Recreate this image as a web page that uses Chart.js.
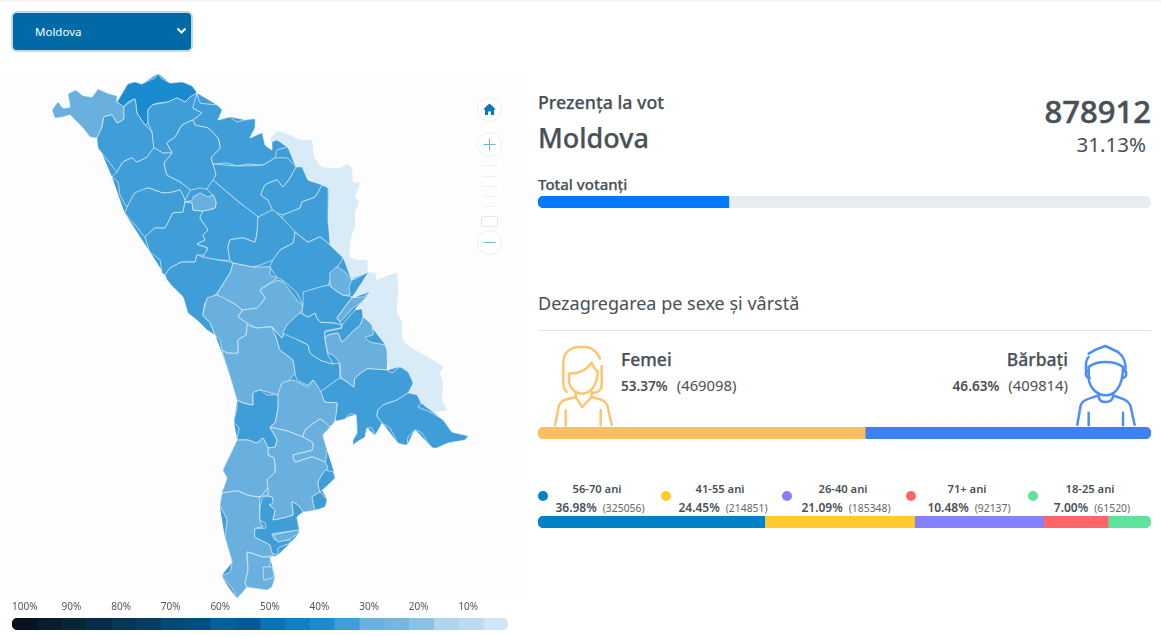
<!DOCTYPE html>
<html lang="ro">
<head>
<meta charset="utf-8">
<title>Prezenţa la vot</title>
<script src="https://cdn.jsdelivr.net/npm/chart.js@4"></script>
<style>
  html, body { margin: 0; padding: 0; background: #fff; }
  body { width: 1161px; height: 636px; position: relative; overflow: hidden; font-family: "Noto Sans", sans-serif; color: #495057; }
  .abs { position: absolute; white-space: nowrap; }
  .box { position: absolute; }
  .med { font-weight: 500; -webkit-text-stroke: 0.25px #495057; }
  #topStrip { left: 0; top: 0; width: 1161px; height: 2px; background: #f4f4f4; }
  #select { left: 11px; top: 11px; width: 178px; height: 37px; background: #0069a6; border: 2px solid #b5dbf6; border-radius: 6px; color: #fff; font-size: 11.5px; line-height: 37px; }
  #select span { position: absolute; left: 22px; top: 0; }
  #select svg { position: absolute; left: 163px; top: 14px; }
  #mapPanel { left: 0; top: 75px; width: 522px; height: 525px; background: #fdfdfd; }
  .ctl { position: absolute; left: 477px; width: 23px; height: 23px; border: 1px solid #e9eef2; border-radius: 50%; background: #fff; }
  .tick { position: absolute; left: 483px; width: 14px; height: 1px; background: #f0f0f0; }
  #hr { left: 538px; top: 330px; width: 613px; height: 1px; background: #e3e3e3; }
  .dot { position: absolute; width: 10px; height: 10px; border-radius: 50%; top: 491px; }
  .ageCol { position: absolute; width: 130px; text-align: center; white-space: nowrap; }
  .ageName { top: 481px; font-size: 11.2px; font-weight: 600; }
  .ageVal { top: 499px; font-size: 12px; font-weight: 600; }
  .ageVal span { font-size: 10.4px; font-weight: 400; color: #666; margin-left: 6px; }
  .genderVal { font-size: 13.6px; font-weight: 600; }
  .genderVal span { font-size: 14.8px; font-weight: 400; margin-left: 9px; }
</style>
</head>
<body>
<div class="box" id="topStrip"></div>
<div class="box" id="select"><span>Moldova</span>
  <svg width="11" height="8" viewBox="0 0 11 8"><path d="M1.5 1.5 L5.5 5.5 L9.5 1.5" fill="none" stroke="#fff" stroke-width="2"/></svg>
</div>

<div class="box" id="mapPanel"></div>
<div class="box" style="left:0;top:70px;width:522px;height:530px"><canvas id="mapChart"></canvas></div>

<div class="ctl" style="top:97px">
  <svg width="23" height="23" viewBox="0 0 23 23"><path d="M11.5 5.5 L18 11.5 L16 11.5 L16 17 L13 17 L13 13.5 L10 13.5 L10 17 L7 17 L7 11.5 L5 11.5 Z" fill="#0a78bf"/></svg>
</div>
<div class="ctl" style="top:132px">
  <svg width="23" height="23" viewBox="0 0 23 23"><path d="M11.5 5.5 V17.5 M5.5 11.5 H17.5" stroke="#6fb1d8" stroke-width="1"/></svg>
</div>
<div class="tick" style="top:165px"></div><div class="tick" style="top:176px"></div>
<div class="tick" style="top:186px"></div><div class="tick" style="top:196px"></div><div class="tick" style="top:206px"></div>
<div class="box" style="left:481px;top:216px;width:15px;height:9px;border:1px solid #e6e6e6;border-radius:2px;background:#fff"></div>
<div class="ctl" style="top:230px">
  <svg width="23" height="23" viewBox="0 0 23 23"><path d="M5.5 11.5 H17.5" stroke="#6fb1d8" stroke-width="1"/></svg>
</div>

<div class="box" style="left:12px;top:597px;width:496px;height:33px"><canvas id="scaleChart"></canvas></div>

<div class="abs med" style="left:538px;top:90px;font-size:17.8px">Prezenţa la vot</div>
<div class="abs med" style="left:538px;top:119px;font-size:27px">Moldova</div>
<div class="abs med" id="totalVotes" style="right:10px;top:90px;font-size:31px;-webkit-text-stroke-width:0.5px"></div>
<div class="abs" id="totalPct" style="right:15px;top:130px;font-size:20.5px"></div>
<div class="abs med" style="left:538px;top:174px;font-size:15px">Total votanţi</div>
<div class="box" style="left:538px;top:196px;width:613px;height:12px"><canvas id="turnoutChart"></canvas></div>

<div class="abs" style="left:538px;top:291px;font-size:18px">Dezagregarea pe sexe şi vârstă</div>
<div class="box" id="hr"></div>

<svg class="box" style="left:545px;top:342px" width="80" height="90" viewBox="0 0 240 270" fill="none" stroke="#fdc56d" stroke-width="7.5" stroke-linecap="round" stroke-linejoin="round">
  <path d="M65 150 C55 140 55 130 55 115 L55 60 C55 35 75 15 100 15 L125 15 C145 18 160 35 165 50"/>
  <path d="M170 72 L170 130 C170 145 155 155 140 152"/>
  <path d="M72 95 C100 95 125 85 140 62 C145 75 152 84 158 88 C158 130 135 155 112 155 C95 155 72 140 72 115 Z"/>
  <path d="M92 150 V165 L112 195 L140 165 V150"/>
  <path d="M92 165 C60 172 50 175 42 190 L30 250 M140 165 C170 172 180 175 187 190 L200 248"/>
  <path d="M62 205 V250 M167 205 V250"/>
</svg>
<svg class="box" style="left:1068px;top:342px" width="80" height="90" viewBox="0 0 240 270" fill="none" stroke="#4d8ff7" stroke-width="7.5" stroke-linecap="round" stroke-linejoin="round">
  <path d="M62 35 L85 22 L112 12 L150 30 C170 45 175 65 172 90"/>
  <path d="M55 95 C52 70 55 50 62 45"/>
  <path d="M62 75 C85 55 140 55 165 75"/>
  <path d="M62 75 V110 C65 140 90 160 112 160 C140 160 165 135 165 75"/>
  <path d="M62 85 C50 85 50 105 65 108 M165 85 C178 85 178 105 165 108"/>
  <path d="M92 155 V165 C95 185 130 185 135 165 V155"/>
  <path d="M92 160 C60 172 45 172 38 190 L28 248 M135 160 C170 172 180 175 187 190 L200 248"/>
  <path d="M62 212 V250 M165 212 V250"/>
</svg>

<div class="abs med" style="left:621px;top:347px;font-size:17.5px">Femei</div>
<div class="abs genderVal" id="femaleText" style="left:621px;top:375px"></div>
<div class="abs med" style="right:93px;top:347px;font-size:17.5px">Bărbaţi</div>
<div class="abs genderVal" id="maleText" style="right:93px;top:375px"></div>
<div class="box" style="left:538px;top:427px;width:613px;height:12px"><canvas id="genderChart"></canvas></div>

<div id="ageLegend"></div>
<div class="box" style="left:538px;top:516px;width:613px;height:12px"><canvas id="ageChart"></canvas></div>

<script>
// Date
const totalVotes = 878912;
const turnoutPct = [31.13, 68.87];
const turnoutColors = ['#007bff', '#e9ecef'];

const genderPct = [53.37, 46.63];
const genderCounts = [469098, 409814];
const genderColors = ['#fdbe5f', '#3b82f6'];

const ageLabels = ['56-70 ani', '41-55 ani', '26-40 ani', '71+ ani', '18-25 ani'];
const agePct = [36.98, 24.45, 21.09, 10.48, 7.00];
const ageCounts = [325056, 214851, 185348, 92137, 61520];
const ageColors = ['#0081c9', '#ffca2c', '#8580fb', '#ff6568', '#5fe29c'];

const scaleLabels = ['100%', '90%', '80%', '70%', '60%', '50%', '40%', '30%', '20%', '10%', ''];
const scaleColors = ['#07141f', '#0a1c2b', '#0a2535', '#072d4a', '#083655', '#053d63', '#024a75', '#004f80',
  '#05609a', '#045a94', '#0a73b8', '#0f80c5', '#1a8bce', '#3f9ed8', '#69b0de', '#74b6e1', '#8bc1e5', '#b2d5ee', '#bedcf1', '#cfe5f5'];
const mapPale = '#d9ebf7';

// Contururi raioane (x, y pe axele hărții)
const stinga = [[273,135],[278,131],[290,135],[300,140],[312,140],[314,157],[322,167],[340,168],[347,164],[352,168],[353,182],[360,183],[355,197],[359,202],[355,212],[355,225],[350,242],[350,257],[358,260],[367,260],[368,272],[375,273],[377,280],[388,275],[397,273],[398,290],[397,312],[402,322],[402,337],[405,343],[415,350],[430,358],[443,367],[440,373],[443,383],[442,400],[447,410],[433,412],[421,403],[417,395],[408,393],[395,380],[380,345],[360,320],[358,300],[345,280],[335,255],[322,225],[322,190],[298,170],[282,150],[270,140]];
const tara = [[117,102],[128,84],[135,82],[142,84],[158,74],[170,83],[182,82],[192,86],[197,93],[217,105],[222,110],[218,120],[230,117],[245,120],[255,119],[250,138],[262,133],[265,145],[272,150],[287,147],[296,167],[302,167],[308,180],[328,188],[328,220],[330,245],[343,258],[352,280],[368,272],[352,298],[370,292],[355,310],[363,317],[385,345],[387,370],[400,367],[408,372],[413,383],[408,393],[417,395],[421,403],[443,420],[452,432],[468,436],[448,443],[433,448],[415,430],[407,445],[398,443],[382,423],[375,435],[367,428],[353,445],[357,433],[356,415],[335,421],[330,427],[323,435],[327,450],[335,478],[318,482],[327,500],[315,510],[303,512],[297,517],[299,533],[278,555],[270,557],[275,577],[267,590],[247,587],[237,598],[222,576],[232,562],[225,537],[220,505],[227,478],[223,470],[237,440],[234,422],[237,400],[227,367],[215,335],[197,320],[183,297],[165,275],[150,252],[125,213],[112,177],[97,138],[124,107]];
const briceni = [[117,102],[123,92],[128,84],[135,82],[142,84],[148,81],[155,78],[158,74],[161,78],[170,83],[182,82],[192,86],[197,93],[190,97],[185,102],[177,98],[168,102],[158,103],[152,105],[148,110],[148,123],[145,125],[137,113],[135,99],[128,102],[123,107]];
const lipcani = [[52,110],[58,102],[63,108],[70,107],[68,94],[76,90],[82,95],[92,97],[98,89],[107,93],[117,96],[117,102],[124,107],[124,119],[117,123],[112,115],[104,117],[102,127],[97,138],[90,137],[83,128],[75,120],[70,115],[63,117],[55,118]];
const edinet = [[102,127],[104,117],[112,115],[117,123],[124,119],[124,107],[135,99],[137,113],[145,125],[152,132],[154,148],[147,157],[137,162],[132,158],[123,162],[117,172],[110,163],[105,157],[98,148],[97,138]];
const ocnita = [[148,110],[152,105],[168,102],[177,98],[185,102],[190,97],[197,93],[198,102],[193,108],[202,113],[193,120],[182,125],[175,137],[167,143],[172,153],[163,153],[154,148],[152,132],[148,123]];
const donduseni = [[197,93],[200,103],[217,105],[222,110],[218,120],[230,117],[237,122],[245,120],[255,119],[255,128],[250,138],[262,133],[265,145],[272,150],[272,142],[277,140],[287,147],[277,150],[275,158],[263,165],[248,164],[237,166],[227,163],[213,164],[211,158],[220,148],[218,138],[208,128],[195,125],[193,120],[202,113],[193,108]];
const drochia = [[182,125],[193,120],[195,125],[208,128],[218,138],[220,148],[211,158],[213,164],[216,175],[208,189],[200,188],[190,190],[180,182],[167,175],[164,163],[172,153],[167,143],[175,137]];
const riscani = [[117,172],[123,162],[132,158],[137,162],[147,157],[154,148],[163,153],[172,153],[164,163],[167,175],[180,182],[190,190],[185,200],[180,190],[173,192],[163,193],[148,188],[138,193],[135,193],[127,207],[120,195],[118,182],[112,177]];
const glodeni = [[127,207],[135,193],[148,188],[163,193],[173,192],[180,190],[185,200],[183,212],[173,213],[165,228],[155,228],[145,237],[137,227],[128,217],[125,213]];
const balti = [[193,197],[200,193],[208,197],[213,195],[216,202],[215,208],[203,211],[193,210],[192,203],[185,202],[193,200]];
const falesti = [[145,237],[155,228],[165,228],[173,213],[183,212],[185,202],[192,203],[193,210],[203,211],[200,218],[208,230],[203,235],[205,240],[197,244],[207,248],[205,255],[197,255],[195,262],[182,262],[170,268],[165,275],[162,273],[160,260],[150,252]];
const floresti = [[213,164],[237,166],[263,165],[275,158],[287,158],[296,167],[290,178],[283,187],[277,180],[265,185],[261,195],[268,200],[273,211],[258,217],[240,203],[213,180],[216,175]];
const soroca = [[296,167],[302,167],[308,180],[322,185],[315,197],[302,202],[300,208],[283,215],[273,211],[268,200],[261,195],[265,185],[277,180],[283,187],[290,178]];
const soldanesti = [[322,185],[328,188],[328,220],[330,245],[320,237],[308,242],[295,232],[282,219],[283,215],[300,208],[302,202],[315,197]];
const singerei = [[213,180],[240,203],[258,217],[257,232],[255,242],[243,238],[230,240],[228,248],[230,260],[218,260],[203,257],[208,248],[197,244],[205,240],[203,235],[208,230],[200,218],[203,211],[215,208],[216,202],[213,195],[207,189]];
const telenesti = [[258,217],[273,210],[283,219],[295,232],[293,243],[280,250],[273,260],[253,267],[233,263],[230,260],[228,248],[230,240],[243,238],[255,242],[257,232]];
const orhei = [[295,232],[308,242],[320,237],[330,245],[335,250],[343,258],[333,273],[328,285],[308,292],[303,305],[297,293],[285,282],[277,277],[270,267],[273,260],[280,250],[293,243]];
const ungheni = [[165,275],[170,268],[182,262],[195,262],[197,255],[203,257],[218,260],[233,263],[230,273],[217,293],[205,303],[203,315],[210,323],[215,335],[207,330],[197,320],[188,313],[183,297],[173,287],[167,280]];
const calarasi = [[233,263],[253,267],[270,267],[270,275],[277,278],[260,290],[265,298],[257,308],[243,310],[233,303],[217,295],[230,273]];
const straseni = [[277,280],[283,282],[297,300],[303,307],[298,318],[287,325],[282,338],[272,327],[257,328],[247,323],[238,317],[243,310],[257,308],[265,298],[260,290]];
const nisporeni = [[207,298],[217,295],[233,303],[242,310],[238,317],[247,323],[246,335],[238,340],[238,353],[227,353],[222,350],[220,340],[215,335],[210,323],[203,315]];
const hincesti = [[247,325],[257,328],[272,327],[277,340],[280,350],[293,360],[295,373],[287,382],[283,383],[280,395],[260,390],[253,393],[253,405],[243,403],[237,400],[232,383],[227,367],[222,350],[227,353],[238,353],[238,340],[246,335]];
const chisinau = [[287,325],[300,313],[308,317],[315,313],[317,318],[320,322],[335,323],[342,325],[340,328],[325,331],[325,340],[328,355],[333,364],[320,360],[310,353],[308,345],[298,340],[283,333]];
const ialoveni = [[272,327],[282,338],[287,327],[298,340],[308,345],[310,353],[320,360],[333,364],[339,363],[340,380],[338,385],[320,392],[313,380],[308,385],[297,380],[295,373],[293,360],[280,350],[277,340]];
const criuleni = [[303,292],[328,285],[335,290],[343,295],[352,297],[337,318],[342,325],[335,323],[320,322],[317,318],[315,313],[308,317],[302,313],[303,305]];
const dubasari = [[330,285],[330,273],[337,267],[345,272],[352,280],[368,272],[353,278],[349,287],[350,295],[343,295],[335,290]];
const cosnita = [[337,318],[352,298],[363,297],[370,292],[362,302],[353,308],[340,322]];
const bulboaca = [[325,332],[342,328],[342,325],[355,310],[362,309],[363,317],[360,325],[352,332],[342,342],[338,333],[328,335],[325,337]];
const aneniiNoi = [[325,338],[328,335],[338,333],[342,342],[352,332],[360,325],[363,317],[372,325],[373,335],[365,337],[370,342],[385,345],[387,350],[387,370],[367,369],[355,378],[354,387],[347,382],[341,378],[340,363],[333,355],[328,353]];
const causeni = [[320,392],[340,378],[347,382],[354,387],[355,378],[367,369],[387,370],[392,373],[400,367],[408,372],[413,383],[408,393],[397,400],[383,405],[378,410],[377,416],[382,423],[375,435],[372,428],[367,428],[365,437],[357,442],[353,445],[353,440],[357,433],[356,415],[350,414],[345,419],[335,421],[337,403],[325,402]];
const stefanVoda = [[378,410],[383,405],[397,400],[408,393],[417,395],[421,403],[418,407],[430,412],[443,420],[452,432],[468,436],[465,440],[448,443],[437,448],[433,448],[428,443],[422,433],[415,430],[408,437],[407,445],[398,443],[390,428],[382,423],[377,416]];
const leova = [[237,400],[243,403],[253,405],[253,393],[260,390],[267,395],[278,395],[278,408],[275,423],[270,427],[277,440],[275,447],[268,448],[263,438],[257,443],[248,440],[237,440],[239,428],[234,422],[237,408]];
const cimislia = [[278,395],[282,383],[293,380],[308,387],[313,380],[320,390],[325,402],[337,403],[335,421],[330,427],[320,419],[305,430],[303,437],[287,431],[270,427],[275,423],[278,408]];
const basarabeasca = [[305,430],[320,419],[330,427],[323,435],[327,450],[325,462],[312,457],[295,462],[293,455],[312,450],[313,443],[303,437]];
const comrat = [[270,427],[287,431],[303,437],[313,443],[312,450],[293,455],[295,462],[312,457],[325,462],[328,468],[318,482],[320,492],[312,497],[315,510],[303,512],[298,505],[292,502],[293,515],[273,520],[275,510],[269,505],[273,498],[268,495],[267,480],[275,472],[274,458],[268,455],[268,448],[275,447],[277,440]];
const cantemir = [[237,440],[248,440],[257,443],[263,438],[268,448],[268,455],[274,458],[275,472],[267,480],[268,488],[260,497],[247,495],[238,491],[222,493],[227,478],[223,470],[230,455]];
const ceadirLunga = [[325,470],[333,472],[335,478],[328,485],[320,492],[318,482]];
const taracliaNord = [[312,497],[320,492],[327,500],[325,507],[315,510]];
const cahul = [[222,493],[238,491],[247,495],[260,497],[268,488],[268,495],[260,497],[260,522],[263,527],[255,528],[255,537],[270,545],[273,555],[263,557],[247,552],[248,570],[245,583],[247,587],[237,598],[232,588],[222,576],[230,572],[232,562],[225,537],[227,520],[220,505]];
const taraclia = [[260,507],[263,497],[272,497],[273,503],[269,505],[275,510],[273,520],[293,515],[292,502],[298,505],[303,512],[297,517],[299,530],[285,532],[272,534],[275,540],[290,540],[290,543],[278,548],[278,555],[272,553],[270,545],[255,537],[255,529],[266,528],[265,523],[260,520]];
const vulcanesti = [[273,535],[297,530],[299,533],[290,539],[278,542]];
const giurgiulesti = [[247,552],[263,557],[270,557],[270,567],[275,577],[272,587],[267,590],[247,587],[245,583],[248,570]];
const cislita = [[263,567],[272,567],[274,577],[264,580]];

// Ordinea de desenare și treapta de culoare din scala de jos
const mapRegions = [stinga, tara, briceni, lipcani, edinet, ocnita, donduseni, drochia, riscani, glodeni, falesti, floresti, soroca, soldanesti, singerei, balti, telenesti, orhei, ungheni, calarasi, straseni, nisporeni, hincesti, ialoveni, chisinau, criuleni, dubasari, cosnita, aneniiNoi, bulboaca, causeni, stefanVoda, leova, cimislia, basarabeasca, comrat, cantemir, ceadirLunga, taracliaNord, cahul, taraclia, vulcanesti, giurgiulesti, cislita];
const mapShades = [19, 13, 12, 14, 13, 13, 13, 13, 13, 13, 13, 13, 13, 13, 13, 14, 13, 13, 13, 14, 14, 14, 14, 13, 13, 13, 14, 14, 14, 13, 13, 13, 13, 14, 14, 14, 14, 13, 13, 14, 13, 14, 14, 14];

// Coloanele legendei de vârstă
const ageDotX = [538, 661, 782, 906, 1028];
const ageNameX = [597, 720, 843, 967, 1090];
const ageValX = [600, 723, 846, 969, 1092];

// Texte
document.getElementById('totalVotes').textContent = totalVotes;
document.getElementById('totalPct').textContent = turnoutPct[0].toFixed(2) + '%';
document.getElementById('femaleText').innerHTML = genderPct[0].toFixed(2) + '%<span>(' + genderCounts[0] + ')</span>';
document.getElementById('maleText').innerHTML = genderPct[1].toFixed(2) + '%<span>(' + genderCounts[1] + ')</span>';

document.getElementById('ageLegend').innerHTML = ageLabels.map(function(label, i) {
    return '<div class="dot" style="left:' + ageDotX[i] + 'px;background:' + ageColors[i] + '"></div>' +
        '<div class="ageCol ageName" style="left:' + (ageNameX[i] - 65) + 'px">' + label + '</div>' +
        '<div class="ageCol ageVal" style="left:' + (ageValX[i] - 65) + 'px">' + agePct[i].toFixed(2) + '%<span>(' + ageCounts[i] + ')</span></div>';
}).join('');

Chart.defaults.animation = false;
Chart.defaults.responsive = true;
Chart.defaults.maintainAspectRatio = false;
Chart.defaults.font.family = '"Noto Sans", sans-serif';
Chart.defaults.plugins.legend.display = false;
Chart.defaults.plugins.tooltip.enabled = false;

// Harta: fiecare raion e o linie închisă umplută
new Chart(document.getElementById('mapChart'), {
    type: 'scatter',
    data: {
        datasets: mapRegions.map(function(points, i) {
            const closed = points.concat([points[0]]);
            return {
                data: closed.map(function(p) { return { x: p[0], y: p[1] }; }),
                showLine: true,
                fill: 'shape',
                tension: 0.1,
                pointRadius: 0,
                borderWidth: i < 2 ? 0 : 0.8,
                borderColor: 'rgba(255,255,255,0.75)',
                backgroundColor: i === 0 ? mapPale : scaleColors[mapShades[i]],
                order: mapRegions.length - i
            };
        })
    },
    options: {
        layout: { padding: 0 },
        scales: {
            x: { type: 'linear', display: false, min: 0, max: 522 },
            y: { type: 'linear', display: false, min: 70, max: 600, reverse: true }
        }
    }
});

// Bară orizontală stivuită, cu capete rotunjite
function stackedBar(canvasId, values, colors, radius, xScale) {
    const last = values.length - 1;
    return new Chart(document.getElementById(canvasId), {
        type: 'bar',
        data: {
            labels: [''],
            datasets: values.map(function(v, i) {
                return {
                    data: [v],
                    backgroundColor: colors[i],
                    borderSkipped: false,
                    barPercentage: 1,
                    categoryPercentage: 1,
                    borderRadius: {
                        topLeft: i === 0 ? radius : 0,
                        bottomLeft: i === 0 ? radius : 0,
                        topRight: i === last ? radius : 0,
                        bottomRight: i === last ? radius : 0
                    }
                };
            })
        },
        options: {
            indexAxis: 'y',
            layout: { padding: 0 },
            scales: {
                x: xScale || { stacked: true, display: false, min: 0, max: 100 },
                y: { stacked: true, display: false }
            }
        }
    });
}

stackedBar('turnoutChart', turnoutPct, turnoutColors, 6);
stackedBar('genderChart', genderPct, genderColors, 6);
stackedBar('ageChart', agePct, ageColors, 6);

// Scala de culori de sub hartă
stackedBar('scaleChart', scaleColors.map(function() { return 5; }), scaleColors, 6, {
    stacked: true,
    position: 'top',
    min: 0,
    max: 100,
    grid: { display: false, drawTicks: true, tickLength: 5 },
    border: { display: false },
    afterFit: function(scale) { scale.height = 21; },
    ticks: {
        stepSize: 10,
        autoSkip: false,
        maxRotation: 0,
        align: 'start',
        padding: 0,
        color: '#555',
        font: { size: 10 },
        callback: function(value, index) { return scaleLabels[index]; }
    }
});
</script>
</body>
</html>
